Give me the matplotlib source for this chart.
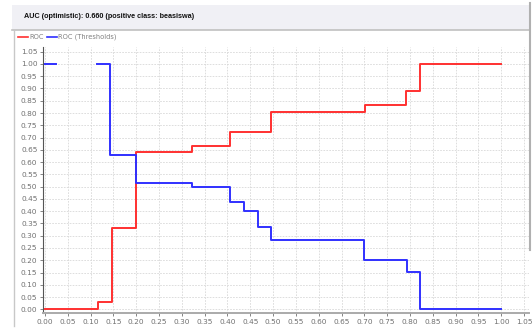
import numpy as np
import matplotlib
matplotlib.use("Agg")
import matplotlib.pyplot as plt
from matplotlib.patches import Rectangle
from matplotlib.lines import Line2D

# ROC curve vertices (false positive rate, true positive rate), drawn as post-steps
roc_fpr = [0.0, 0.117, 0.146, 0.200, 0.322, 0.406, 0.495, 0.702, 0.791, 0.821, 1.0]
roc_tpr = [0.0, 0.030, 0.333, 0.640, 0.667, 0.722, 0.806, 0.833, 0.889, 1.000, 1.0]

# Threshold curve (NaN marks the gap between the two pieces)
thr_fpr = [0.0, 0.024, 0.113, 0.143, 0.200, 0.322, 0.406, 0.436, 0.467, 0.496, 0.700, 0.794, 0.823, 1.0]
thr_val = [1.0, np.nan, 1.000, 0.627, 0.513, 0.500, 0.438, 0.400, 0.337, 0.283, 0.200, 0.153, 0.000, 0.0]

title_text = "AUC (optimistic): 0.660 (positive class: beasiswa)"
legend_labels = ["ROC", "ROC (Thresholds)"]
ticks = np.round(np.arange(0, 1.0501, 0.05), 2)

W, H = 532, 330
fig = plt.figure(figsize=(W / 100, H / 100), dpi=100)
fig.patch.set_facecolor("white")

def fx(px):
    return px / W

def fy(py):
    return 1 - py / H

# header panel
fig.patches.append(Rectangle((fx(12), fy(29.5)), fx(529) - fx(12), fy(4.5) - fy(29.5),
                             transform=fig.transFigure, facecolor="#f0f0f5",
                             edgecolor="none", zorder=0))
fig.lines.append(Line2D([fx(12), fx(529)], [fy(29.5), fy(29.5)], transform=fig.transFigure,
                        color="#c0c0c0", lw=1.2))
fig.lines.append(Line2D([fx(529.5), fx(529.5)], [fy(3), fy(250)], transform=fig.transFigure,
                        color="#b0b0b0", lw=1.5))
fig.lines.append(Line2D([fx(14), fx(14)], [fy(30), fy(326)], transform=fig.transFigure,
                        color="#c8c8c8", lw=1.0))
fig.text(fx(24), fy(17), title_text, fontsize=5.2, fontweight="bold",
         family="Liberation Sans", color="#111111", va="center", ha="left")

# legend
red = "#ff3030"
blue = "#3030ff"
fig.lines.append(Line2D([fx(18), fx(28)], [fy(37), fy(37)], transform=fig.transFigure, color=red, lw=1.2))
fig.text(fx(29.5), fy(37), legend_labels[0], fontsize=4.8, color="#808080", va="center", ha="left")
fig.lines.append(Line2D([fx(47), fx(57)], [fy(37), fy(37)], transform=fig.transFigure, color=blue, lw=1.2))
fig.text(fx(58.5), fy(37), legend_labels[1], fontsize=4.8, color="#808080", va="center", ha="left")

ax = fig.add_axes([fx(43), fy(313), fx(529) - fx(43), fy(47) - fy(313)])
ax.set_facecolor("white")
ax.plot(roc_fpr, roc_tpr, drawstyle="steps-post", color=red, lw=1.4, zorder=3)
ax.plot(thr_fpr, thr_val, drawstyle="steps-post", color=blue, lw=1.4, zorder=3)

ax.set_xlim(-0.0044, 1.061)
ax.set_ylim(-0.015, 1.069)
ax.set_xticks(ticks)
ax.set_yticks(ticks)
ax.set_xticklabels([f"{t:.2f}" for t in ticks])
ax.set_yticklabels([f"{t:.2f}" for t in ticks])
ax.tick_params(labelsize=5.3, colors="#707070", length=2, width=0.6, pad=2)
ax.grid(True, color="#d8d8d8", lw=0.6, ls=(0, (2, 1.5)))
ax.set_axisbelow(True)
ax.spines["top"].set_visible(False)
ax.spines["right"].set_visible(False)
ax.spines["left"].set_color("#555555")
ax.spines["left"].set_linewidth(0.8)
ax.spines["bottom"].set_color("#aaaaaa")
ax.spines["bottom"].set_linewidth(1.4)

fig.savefig("out.png", dpi=100)
